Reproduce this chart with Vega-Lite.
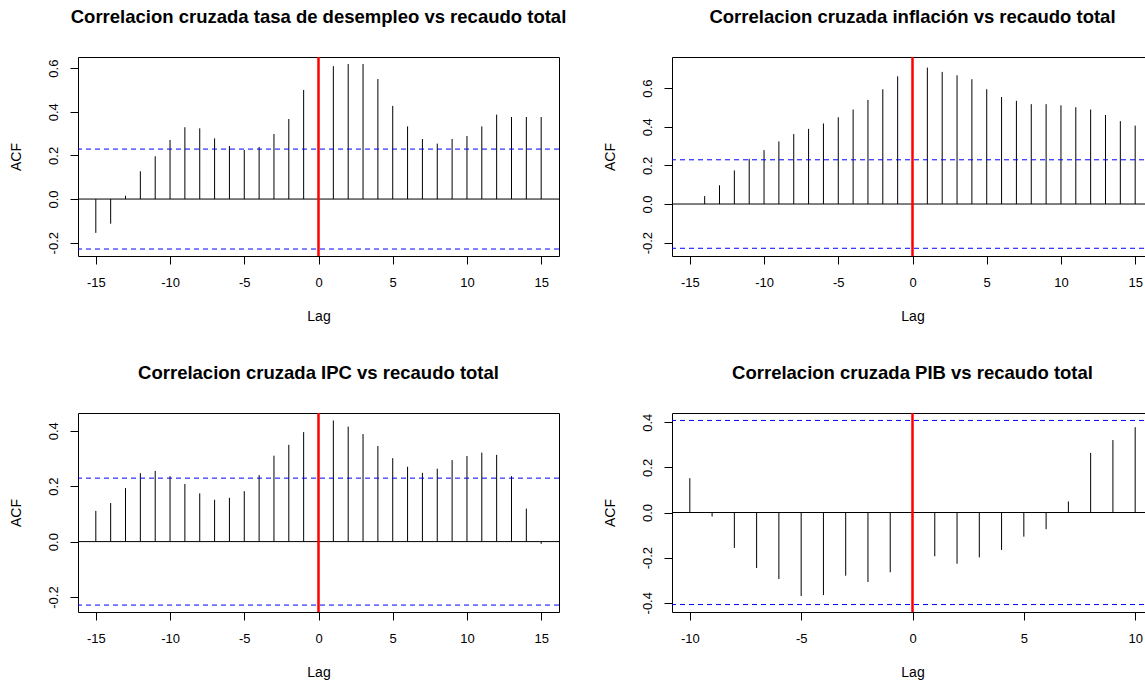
{
  "$schema": "https://vega.github.io/schema/vega-lite/v6.json",
  "background": "white",
  "padding": {"left": 8, "top": 7, "right": 0, "bottom": 0},
  "datasets": {
    "ccf": [
      {"panel": "A", "lag": -15, "acf": -0.155}, {"panel": "A", "lag": -14, "acf": -0.113}, {"panel": "A", "lag": -13, "acf": 0.015},
      {"panel": "A", "lag": -12, "acf": 0.127}, {"panel": "A", "lag": -11, "acf": 0.196}, {"panel": "A", "lag": -10, "acf": 0.271},
      {"panel": "A", "lag": -9, "acf": 0.329}, {"panel": "A", "lag": -8, "acf": 0.324}, {"panel": "A", "lag": -7, "acf": 0.278},
      {"panel": "A", "lag": -6, "acf": 0.243}, {"panel": "A", "lag": -5, "acf": 0.225}, {"panel": "A", "lag": -4, "acf": 0.239},
      {"panel": "A", "lag": -3, "acf": 0.298}, {"panel": "A", "lag": -2, "acf": 0.367}, {"panel": "A", "lag": -1, "acf": 0.5},
      {"panel": "A", "lag": 0, "acf": 0.58}, {"panel": "A", "lag": 1, "acf": 0.609}, {"panel": "A", "lag": 2, "acf": 0.619},
      {"panel": "A", "lag": 3, "acf": 0.619}, {"panel": "A", "lag": 4, "acf": 0.55}, {"panel": "A", "lag": 5, "acf": 0.427},
      {"panel": "A", "lag": 6, "acf": 0.333}, {"panel": "A", "lag": 7, "acf": 0.275}, {"panel": "A", "lag": 8, "acf": 0.254},
      {"panel": "A", "lag": 9, "acf": 0.275}, {"panel": "A", "lag": 10, "acf": 0.289}, {"panel": "A", "lag": 11, "acf": 0.333},
      {"panel": "A", "lag": 12, "acf": 0.387}, {"panel": "A", "lag": 13, "acf": 0.376}, {"panel": "A", "lag": 14, "acf": 0.376},
      {"panel": "A", "lag": 15, "acf": 0.376},
      {"panel": "B", "lag": -15, "acf": 0.0}, {"panel": "B", "lag": -14, "acf": 0.041}, {"panel": "B", "lag": -13, "acf": 0.097},
      {"panel": "B", "lag": -12, "acf": 0.174}, {"panel": "B", "lag": -11, "acf": 0.234}, {"panel": "B", "lag": -10, "acf": 0.279},
      {"panel": "B", "lag": -9, "acf": 0.324}, {"panel": "B", "lag": -8, "acf": 0.362}, {"panel": "B", "lag": -7, "acf": 0.389},
      {"panel": "B", "lag": -6, "acf": 0.417}, {"panel": "B", "lag": -5, "acf": 0.449}, {"panel": "B", "lag": -4, "acf": 0.489},
      {"panel": "B", "lag": -3, "acf": 0.539}, {"panel": "B", "lag": -2, "acf": 0.594}, {"panel": "B", "lag": -1, "acf": 0.661},
      {"panel": "B", "lag": 0, "acf": 0.72}, {"panel": "B", "lag": 1, "acf": 0.706}, {"panel": "B", "lag": 2, "acf": 0.684},
      {"panel": "B", "lag": 3, "acf": 0.666}, {"panel": "B", "lag": 4, "acf": 0.646}, {"panel": "B", "lag": 5, "acf": 0.594},
      {"panel": "B", "lag": 6, "acf": 0.554}, {"panel": "B", "lag": 7, "acf": 0.534}, {"panel": "B", "lag": 8, "acf": 0.517},
      {"panel": "B", "lag": 9, "acf": 0.517}, {"panel": "B", "lag": 10, "acf": 0.511}, {"panel": "B", "lag": 11, "acf": 0.501},
      {"panel": "B", "lag": 12, "acf": 0.489}, {"panel": "B", "lag": 13, "acf": 0.461}, {"panel": "B", "lag": 14, "acf": 0.429},
      {"panel": "B", "lag": 15, "acf": 0.406},
      {"panel": "C", "lag": -15, "acf": 0.111}, {"panel": "C", "lag": -14, "acf": 0.139}, {"panel": "C", "lag": -13, "acf": 0.193},
      {"panel": "C", "lag": -12, "acf": 0.247}, {"panel": "C", "lag": -11, "acf": 0.255}, {"panel": "C", "lag": -10, "acf": 0.236},
      {"panel": "C", "lag": -9, "acf": 0.208}, {"panel": "C", "lag": -8, "acf": 0.174}, {"panel": "C", "lag": -7, "acf": 0.151},
      {"panel": "C", "lag": -6, "acf": 0.158}, {"panel": "C", "lag": -5, "acf": 0.182}, {"panel": "C", "lag": -4, "acf": 0.24},
      {"panel": "C", "lag": -3, "acf": 0.31}, {"panel": "C", "lag": -2, "acf": 0.349}, {"panel": "C", "lag": -1, "acf": 0.395},
      {"panel": "C", "lag": 0, "acf": 0.42}, {"panel": "C", "lag": 1, "acf": 0.437}, {"panel": "C", "lag": 2, "acf": 0.415},
      {"panel": "C", "lag": 3, "acf": 0.388}, {"panel": "C", "lag": 4, "acf": 0.345}, {"panel": "C", "lag": 5, "acf": 0.301},
      {"panel": "C", "lag": 6, "acf": 0.27}, {"panel": "C", "lag": 7, "acf": 0.248}, {"panel": "C", "lag": 8, "acf": 0.263},
      {"panel": "C", "lag": 9, "acf": 0.294}, {"panel": "C", "lag": 10, "acf": 0.309}, {"panel": "C", "lag": 11, "acf": 0.321},
      {"panel": "C", "lag": 12, "acf": 0.313}, {"panel": "C", "lag": 13, "acf": 0.236}, {"panel": "C", "lag": 14, "acf": 0.119},
      {"panel": "C", "lag": 15, "acf": -0.008},
      {"panel": "D", "lag": -10, "acf": 0.152}, {"panel": "D", "lag": -9, "acf": -0.018}, {"panel": "D", "lag": -8, "acf": -0.157},
      {"panel": "D", "lag": -7, "acf": -0.246}, {"panel": "D", "lag": -6, "acf": -0.295}, {"panel": "D", "lag": -5, "acf": -0.37},
      {"panel": "D", "lag": -4, "acf": -0.366}, {"panel": "D", "lag": -3, "acf": -0.28}, {"panel": "D", "lag": -2, "acf": -0.308},
      {"panel": "D", "lag": -1, "acf": -0.265}, {"panel": "D", "lag": 0, "acf": -0.2}, {"panel": "D", "lag": 1, "acf": -0.194},
      {"panel": "D", "lag": 2, "acf": -0.227}, {"panel": "D", "lag": 3, "acf": -0.199}, {"panel": "D", "lag": 4, "acf": -0.166},
      {"panel": "D", "lag": 5, "acf": -0.107}, {"panel": "D", "lag": 6, "acf": -0.074}, {"panel": "D", "lag": 7, "acf": 0.049},
      {"panel": "D", "lag": 8, "acf": 0.264}, {"panel": "D", "lag": 9, "acf": 0.321}, {"panel": "D", "lag": 10, "acf": 0.378}
    ],
    "ci": [
      {"panel": "A", "ci": 0.229}, {"panel": "A", "ci": -0.229},
      {"panel": "B", "ci": 0.229}, {"panel": "B", "ci": -0.229},
      {"panel": "C", "ci": 0.229}, {"panel": "C", "ci": -0.229},
      {"panel": "D", "ci": 0.408}, {"panel": "D", "ci": -0.408}
    ]
  },
  "columns": 2,
  "spacing": {"row": 157, "column": 113},
  "bounds": "flush",
  "concat": [
    {
      "title": "Correlacion cruzada tasa de desempleo vs recaudo total",
      "width": 481, "height": 199,
      "layer": [
        {"data": {"name": "ccf"}, "transform": [{"filter": "datum.panel === 'A'"}],
         "mark": {"type": "rule", "color": "black", "strokeWidth": 1},
         "encoding": {
           "x": {"field": "lag", "type": "quantitative", "scale": {"domain": [-16.2, 16.2], "nice": false, "zero": false},
                 "axis": {"values": [-15, -10, -5, 0, 5, 10, 15], "title": "Lag"}},
           "y": {"field": "acf", "type": "quantitative", "scale": {"domain": [-0.261, 0.651], "nice": false, "zero": false},
                 "axis": {"values": [-0.2, 0, 0.2, 0.4, 0.6], "title": "ACF"}},
           "y2": {"datum": 0}}},
        {"data": {"values": [{}]}, "mark": {"type": "rule", "color": "black", "strokeWidth": 1}, "encoding": {"y": {"datum": 0}}},
        {"data": {"name": "ci"}, "transform": [{"filter": "datum.panel === 'A'"}],
         "mark": {"type": "rule", "color": "blue", "strokeDash": [5, 4], "strokeWidth": 1},
         "encoding": {"y": {"field": "ci", "type": "quantitative"}}},
        {"data": {"values": [{}]}, "mark": {"type": "rule", "color": "red", "strokeWidth": 2.5}, "encoding": {"x": {"datum": 0}}}
      ]
    },
    {
      "title": "Correlacion cruzada inflación vs recaudo total",
      "width": 481, "height": 199,
      "layer": [
        {"data": {"name": "ccf"}, "transform": [{"filter": "datum.panel === 'B'"}],
         "mark": {"type": "rule", "color": "black", "strokeWidth": 1},
         "encoding": {
           "x": {"field": "lag", "type": "quantitative", "scale": {"domain": [-16.2, 16.2], "nice": false, "zero": false},
                 "axis": {"values": [-15, -10, -5, 0, 5, 10, 15], "title": "Lag"}},
           "y": {"field": "acf", "type": "quantitative", "scale": {"domain": [-0.269, 0.761], "nice": false, "zero": false},
                 "axis": {"values": [-0.2, 0, 0.2, 0.4, 0.6], "title": "ACF"}},
           "y2": {"datum": 0}}},
        {"data": {"values": [{}]}, "mark": {"type": "rule", "color": "black", "strokeWidth": 1}, "encoding": {"y": {"datum": 0}}},
        {"data": {"name": "ci"}, "transform": [{"filter": "datum.panel === 'B'"}],
         "mark": {"type": "rule", "color": "blue", "strokeDash": [5, 4], "strokeWidth": 1},
         "encoding": {"y": {"field": "ci", "type": "quantitative"}}},
        {"data": {"values": [{}]}, "mark": {"type": "rule", "color": "red", "strokeWidth": 2.5}, "encoding": {"x": {"datum": 0}}}
      ]
    },
    {
      "title": "Correlacion cruzada IPC vs recaudo total",
      "width": 481, "height": 199,
      "layer": [
        {"data": {"name": "ccf"}, "transform": [{"filter": "datum.panel === 'C'"}],
         "mark": {"type": "rule", "color": "black", "strokeWidth": 1},
         "encoding": {
           "x": {"field": "lag", "type": "quantitative", "scale": {"domain": [-16.2, 16.2], "nice": false, "zero": false},
                 "axis": {"values": [-15, -10, -5, 0, 5, 10, 15], "title": "Lag"}},
           "y": {"field": "acf", "type": "quantitative", "scale": {"domain": [-0.254, 0.464], "nice": false, "zero": false},
                 "axis": {"values": [-0.2, -0.1, 0, 0.1, 0.2, 0.3, 0.4], "labelExpr": "abs(round(datum.value * 10)) % 2 === 0 ? replace(format(datum.value, '.1f'), '−', '-') : ''", "title": "ACF"}},
           "y2": {"datum": 0}}},
        {"data": {"values": [{}]}, "mark": {"type": "rule", "color": "black", "strokeWidth": 1}, "encoding": {"y": {"datum": 0}}},
        {"data": {"name": "ci"}, "transform": [{"filter": "datum.panel === 'C'"}],
         "mark": {"type": "rule", "color": "blue", "strokeDash": [5, 4], "strokeWidth": 1},
         "encoding": {"y": {"field": "ci", "type": "quantitative"}}},
        {"data": {"values": [{}]}, "mark": {"type": "rule", "color": "red", "strokeWidth": 2.5}, "encoding": {"x": {"datum": 0}}}
      ]
    },
    {
      "title": "Correlacion cruzada PIB vs recaudo total",
      "width": 481, "height": 199,
      "layer": [
        {"data": {"name": "ccf"}, "transform": [{"filter": "datum.panel === 'D'"}],
         "mark": {"type": "rule", "color": "black", "strokeWidth": 1},
         "encoding": {
           "x": {"field": "lag", "type": "quantitative", "scale": {"domain": [-10.8, 10.8], "nice": false, "zero": false},
                 "axis": {"values": [-10, -5, 0, 5, 10], "title": "Lag"}},
           "y": {"field": "acf", "type": "quantitative", "scale": {"domain": [-0.441, 0.441], "nice": false, "zero": false},
                 "axis": {"values": [-0.4, -0.2, 0, 0.2, 0.4], "title": "ACF"}},
           "y2": {"datum": 0}}},
        {"data": {"values": [{}]}, "mark": {"type": "rule", "color": "black", "strokeWidth": 1}, "encoding": {"y": {"datum": 0}}},
        {"data": {"name": "ci"}, "transform": [{"filter": "datum.panel === 'D'"}],
         "mark": {"type": "rule", "color": "blue", "strokeDash": [5, 4], "strokeWidth": 1},
         "encoding": {"y": {"field": "ci", "type": "quantitative"}}},
        {"data": {"values": [{}]}, "mark": {"type": "rule", "color": "red", "strokeWidth": 2.5}, "encoding": {"x": {"datum": 0}}}
      ]
    }
  ],
  "resolve": {"scale": {"x": "independent", "y": "independent"}},
  "config": {
    "font": "Liberation Sans",
    "view": {"stroke": "black", "strokeWidth": 1},
    "title": {"font": "Liberation Sans", "fontSize": 18.5, "fontWeight": "bold", "color": "black", "anchor": "middle", "offset": 29},
    "axis": {
      "grid": false, "domain": false, "tickColor": "black", "tickSize": 8, "tickWidth": 1,
      "labelFont": "Liberation Sans", "labelFontSize": 13, "labelColor": "black",
      "labelExpr": "replace(format(datum.value, '.1f'), '−', '-')",
      "titleFont": "Liberation Sans", "titleFontSize": 14, "titleFontWeight": "normal", "titleColor": "black",
      "labelFlush": false, "labelOverlap": false
    },
    "axisX": {"labelPadding": 12, "titlePadding": 20, "labelExpr": "replace(format(datum.value, 'd'), '−', '-')"},
    "axisY": {"labelAngle": 270, "labelAlign": "center", "labelBaseline": "bottom", "labelPadding": 10, "titlePadding": 24}
  }
}
